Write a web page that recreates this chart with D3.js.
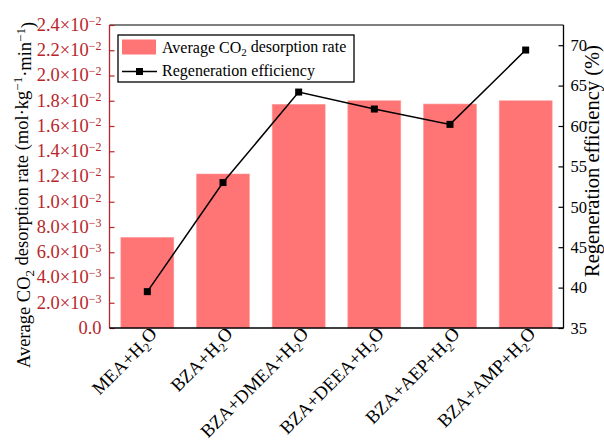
<!DOCTYPE html>
<html><head><meta charset="utf-8">
<script src="https://cdn.jsdelivr.net/npm/d3@7"></script>
<style>body{margin:0;background:#fff}svg{display:block}text{font-family:"Liberation Serif","Times New Roman",serif}</style>
</head><body><svg id="c" width="604" height="442"></svg>
<script>
const categories = ["MEA+H2O","BZA+H2O","BZA+DMEA+H2O","BZA+DEEA+H2O","BZA+AEP+H2O","BZA+AMP+H2O"];
const rateValues = [0.00718, 0.0122, 0.01772, 0.0180, 0.01774, 0.0180];
const efficiencyValues = [39.5, 53.0, 64.2, 62.1, 60.2, 69.4];
const leftTicks = [0,0.002,0.004,0.006,0.008,0.010,0.012,0.014,0.016,0.018,0.020,0.022,0.024];
const rightTicks = [35,40,45,50,55,60,65,70];
const legendLabels = ["Average CO2 desorption rate","Regeneration efficiency"];

const svg = d3.select("#c");
const L=109.5, R=563.5, T=25, B=328;
const RED="#b8262b", BAR="#ff7474";

const x = d3.scaleBand().domain(categories).range([L,R]).paddingInner(0.3).paddingOuter(0.15);
const yL = d3.scaleLinear().domain([0,0.024]).range([B,T]);
const yR = d3.scaleLinear().domain([35,72.5]).range([B,T]);

// bars
svg.append("g").selectAll("rect").data(categories).join("rect")
  .attr("x",d=>x(d)).attr("width",x.bandwidth())
  .attr("y",(d,i)=>yL(rateValues[i])).attr("height",(d,i)=>B-yL(rateValues[i]))
  .attr("fill",BAR).attr("stroke","#ffa0a0").attr("stroke-width",0.6);

// frame top
svg.append("line").attr("x1",L).attr("x2",R).attr("y1",T).attr("y2",T).attr("stroke","#000").attr("stroke-width",1.2);

// left axis
const gl = svg.append("g").attr("transform",`translate(${L},0)`)
  .call(d3.axisLeft(yL).tickValues(leftTicks).tickSize(-5).tickFormat(""));
gl.select(".domain").attr("stroke",RED).attr("stroke-width",1.3).attr("d",`M0,${T}V${B}`);
gl.selectAll(".tick line").attr("stroke",RED).attr("stroke-width",1.2);
const lbl = svg.append("g");
leftTicks.forEach(v=>{
  const t = lbl.append("text").attr("x",L-8).attr("y",yL(v)).attr("dy","0.32em")
    .attr("text-anchor","end").attr("fill",RED).attr("font-size",18.5);
  if(v===0){ t.text("0.0"); return; }
  const e = Math.floor(Math.log10(v)+1e-9);
  const m = v/Math.pow(10,e);
  t.append("tspan").text(m.toFixed(1)+"×10");
  t.append("tspan").attr("dy","-0.5em").attr("font-size",12).text("−"+(-e));
});

// right axis
const gr = svg.append("g").attr("transform",`translate(${R},0)`)
  .call(d3.axisRight(yR).tickValues(rightTicks).tickSize(-5).tickPadding(7));
gr.select(".domain").attr("stroke","#000").attr("stroke-width",1.3).attr("d",`M0,${T}V${B}`);
gr.selectAll(".tick line").attr("stroke","#000").attr("stroke-width",1.2);
gr.selectAll(".tick text").attr("font-family","Liberation Serif").attr("font-size",16.5).attr("fill","#000");

// bottom axis
svg.append("line").attr("x1",L).attr("x2",R).attr("y1",B).attr("y2",B).attr("stroke","#000").attr("stroke-width",1.5);
const xl = svg.append("g");
categories.forEach(c=>{
  const cx = x(c)+x.bandwidth()/2;
  const t = xl.append("text").attr("text-anchor","end").attr("font-size",18.5).attr("fill","#000")
    .attr("transform",`translate(${cx+12},${B+8}) rotate(-45)`);
  const parts = c.split("H2O");
  t.append("tspan").text(parts[0]+"H");
  t.append("tspan").attr("dy","0.3em").attr("font-size",12.5).text("2");
  t.append("tspan").attr("dy","-0.3em").text("O");
});

// line
const line = d3.line().x((d,i)=>x(categories[i])+x.bandwidth()/2).y(d=>yR(d));
svg.append("path").datum(efficiencyValues).attr("d",line).attr("fill","none").attr("stroke","#000").attr("stroke-width",1.5);
svg.append("g").selectAll("rect").data(efficiencyValues).join("rect")
  .attr("x",(d,i)=>x(categories[i])+x.bandwidth()/2-3.5).attr("y",d=>yR(d)-3.5)
  .attr("width",7).attr("height",7).attr("fill","#000");

// axis titles
const tl = svg.append("text").attr("transform","translate(30,195) rotate(-90)").attr("text-anchor","middle")
  .attr("font-size",18.5).attr("fill","#000");
tl.append("tspan").text("Average CO");
tl.append("tspan").attr("dy","0.3em").attr("font-size",13).text("2");
tl.append("tspan").attr("dy","-0.3em").text(" desorption rate (mol·kg");
tl.append("tspan").attr("dy","-0.5em").attr("font-size",13).text("−1");
tl.append("tspan").attr("dy","0.5em").text("·min");
tl.append("tspan").attr("dy","-0.5em").attr("font-size",13).text("−1");
tl.append("tspan").attr("dy","0.5em").text(")");

svg.append("text").attr("transform","translate(598.5,161) rotate(-90)").attr("text-anchor","middle")
  .attr("font-size",20.5).attr("fill","#000").text("Regeneration efficiency (%)");

// legend
const lg = svg.append("g");
lg.append("rect").attr("x",118).attr("y",35).attr("width",236).attr("height",47)
  .attr("fill","#fff").attr("stroke","#000").attr("stroke-width",1.3);
lg.append("rect").attr("x",122).attr("y",39.5).attr("width",34).attr("height",15).attr("fill",BAR);
const lt1 = lg.append("text").attr("x",162).attr("y",53).attr("font-size",16).attr("fill","#000");
const p = legendLabels[0].split("CO2");
lt1.append("tspan").text(p[0]+"CO");
lt1.append("tspan").attr("dy","0.3em").attr("font-size",11).text("2");
lt1.append("tspan").attr("dy","-0.3em").text(p[1]);
lg.append("line").attr("x1",122).attr("x2",157).attr("y1",71.5).attr("y2",71.5).attr("stroke","#000").attr("stroke-width",1.5);
lg.append("rect").attr("x",136).attr("y",68).attr("width",7).attr("height",7).attr("fill","#000");
lg.append("text").attr("x",162).attr("y",76).attr("font-size",16).attr("fill","#000").text(legendLabels[1]);
</script></body></html>
